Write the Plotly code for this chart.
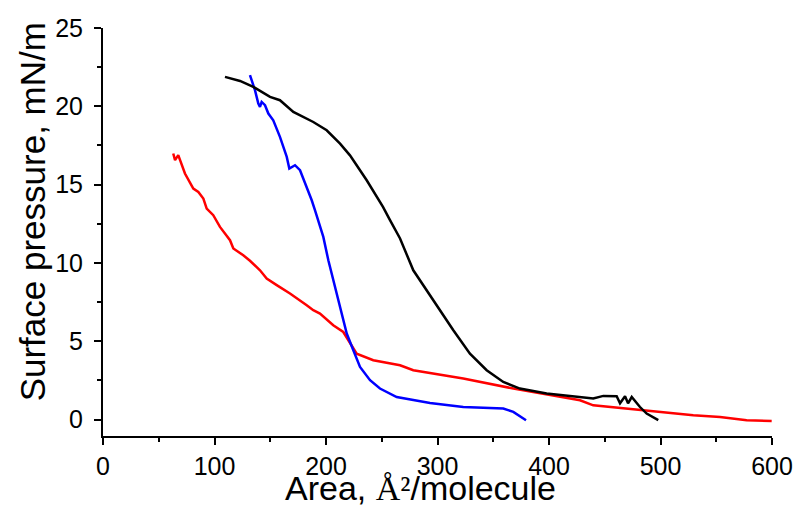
import plotly.graph_objects as go

# Black isotherm
black_x = [109.4, 122.9, 134.8, 149.8, 158.7, 170.7, 188.6, 200.6, 212.6, 221.5, 236.5,
           251.1, 257.4, 266.4, 278.3, 296.2, 314.2, 329.1, 344.1, 359.0, 373.9, 397.9,
           427.8, 439.7, 448.7, 460.7, 463.7, 468.2, 470.9, 474.2, 481.6, 487.6, 498.0]
black_y = [21.88, 21.62, 21.24, 20.60, 20.39, 19.64, 19.00, 18.47, 17.62, 16.87, 15.28,
           13.58, 12.73, 11.56, 9.53, 7.62, 5.70, 4.21, 3.15, 2.40, 1.98, 1.66,
           1.44, 1.34, 1.51, 1.49, 1.04, 1.49, 1.04, 1.44, 0.80, 0.38, -0.04]

# Blue isotherm
blue_x = [131.8, 136.3, 139.3, 140.8, 142.3, 145.3, 148.3, 152.7, 158.7, 164.8, 167.1,
          172.2, 176.7, 182.7, 187.2, 190.1, 197.6, 202.1, 206.5, 209.6, 215.5, 218.6,
          224.5, 230.5, 239.5, 248.4, 263.4, 293.3, 323.1, 359.0, 368.0, 379.4]
blue_y = [21.99, 21.03, 20.18, 19.96, 20.28, 20.07, 19.54, 19.11, 18.05, 16.77, 16.03,
          16.24, 15.92, 14.85, 14.00, 13.37, 11.66, 10.17, 8.90, 8.05, 6.34, 5.49,
          4.43, 3.36, 2.51, 1.98, 1.44, 1.06, 0.80, 0.70, 0.49, -0.04]

# Red isotherm
red_x = [63.0, 64.6, 67.5, 69.1, 73.5, 81.0, 85.5, 90.0, 93.0, 98.9, 104.9, 113.9,
         116.9, 125.8, 131.8, 140.8, 146.8, 155.8, 167.7, 182.7, 188.6, 194.6, 206.5,
         215.5, 220.9, 227.5, 242.4, 266.4, 278.3, 323.1, 368.0, 403.9, 427.8, 439.7,
         469.7, 499.6, 529.4, 553.4, 577.3, 599.7]
red_y = [16.99, 16.56, 16.88, 16.56, 15.71, 14.75, 14.53, 14.11, 13.47, 13.05, 12.30, 11.45,
         10.92, 10.49, 10.14, 9.53, 9.00, 8.58, 8.05, 7.30, 6.98, 6.77, 6.02,
         5.59, 4.96, 4.21, 3.79, 3.47, 3.15, 2.62, 1.98, 1.55, 1.23, 0.91,
         0.70, 0.49, 0.27, 0.17, -0.04, -0.09]

x_ticks = [0, 100, 200, 300, 400, 500, 600]
y_ticks = [0, 5, 10, 15, 20, 25]
x_title = "Area, <span style='font-family:Liberation Serif'>Å²</span>/molecule"
y_title = "Surface pressure, mN/m"

FONT = "Liberation Sans, Arial, sans-serif"

fig = go.Figure()
fig.add_trace(go.Scatter(x=red_x, y=red_y, mode="lines", line=dict(color="#ff0000", width=2.5)))
fig.add_trace(go.Scatter(x=blue_x, y=blue_y, mode="lines", line=dict(color="#0000ff", width=2.5)))
fig.add_trace(go.Scatter(x=black_x, y=black_y, mode="lines", line=dict(color="#000000", width=2.5)))

# page body has an 8px default margin, so the figure is 8px smaller and margins shifted
fig.update_layout(
    width=794, height=500,
    margin=dict(l=95, r=30, t=20, b=72),
    paper_bgcolor="white", plot_bgcolor="white",
    showlegend=False,
    font=dict(family=FONT, color="black"),
)
fig.update_xaxes(
    range=[0, 600], tickvals=x_ticks, ticktext=[str(v) for v in x_ticks],
    showgrid=False, zeroline=False, showline=True, linecolor="black", linewidth=2,
    ticks="outside", ticklen=7, tickwidth=2, tickcolor="black",
    tickfont=dict(size=25, family=FONT, color="black"),
    minor=dict(dtick=50, tick0=0, ticks="outside", ticklen=4, tickwidth=2, tickcolor="black", showgrid=False),
    automargin=False,
)
fig.update_yaxes(
    range=[-1.05, 25], tickvals=y_ticks, ticktext=[str(v) for v in y_ticks],
    showgrid=False, zeroline=False, showline=True, linecolor="black", linewidth=2,
    ticks="outside", ticklen=7, tickwidth=2, tickcolor="black",
    tickfont=dict(size=25, family=FONT, color="black"),
    ticklabelstandoff=6,
    minor=dict(dtick=2.5, tick0=0, ticks="outside", ticklen=4, tickwidth=2, tickcolor="black", showgrid=False),
    automargin=False,
)
fig.add_annotation(text=x_title, xref="paper", yref="paper", x=0.474, y=-0.128,
                   xanchor="center", yanchor="middle", showarrow=False, borderpad=0,
                   font=dict(size=34, family=FONT, color="black"))
fig.add_annotation(text=y_title, xref="paper", yref="paper", x=-0.105, y=0.55,
                   xanchor="center", yanchor="middle", showarrow=False, textangle=-90,
                   font=dict(size=35, family=FONT, color="black"))

fig.write_html("out.html")
